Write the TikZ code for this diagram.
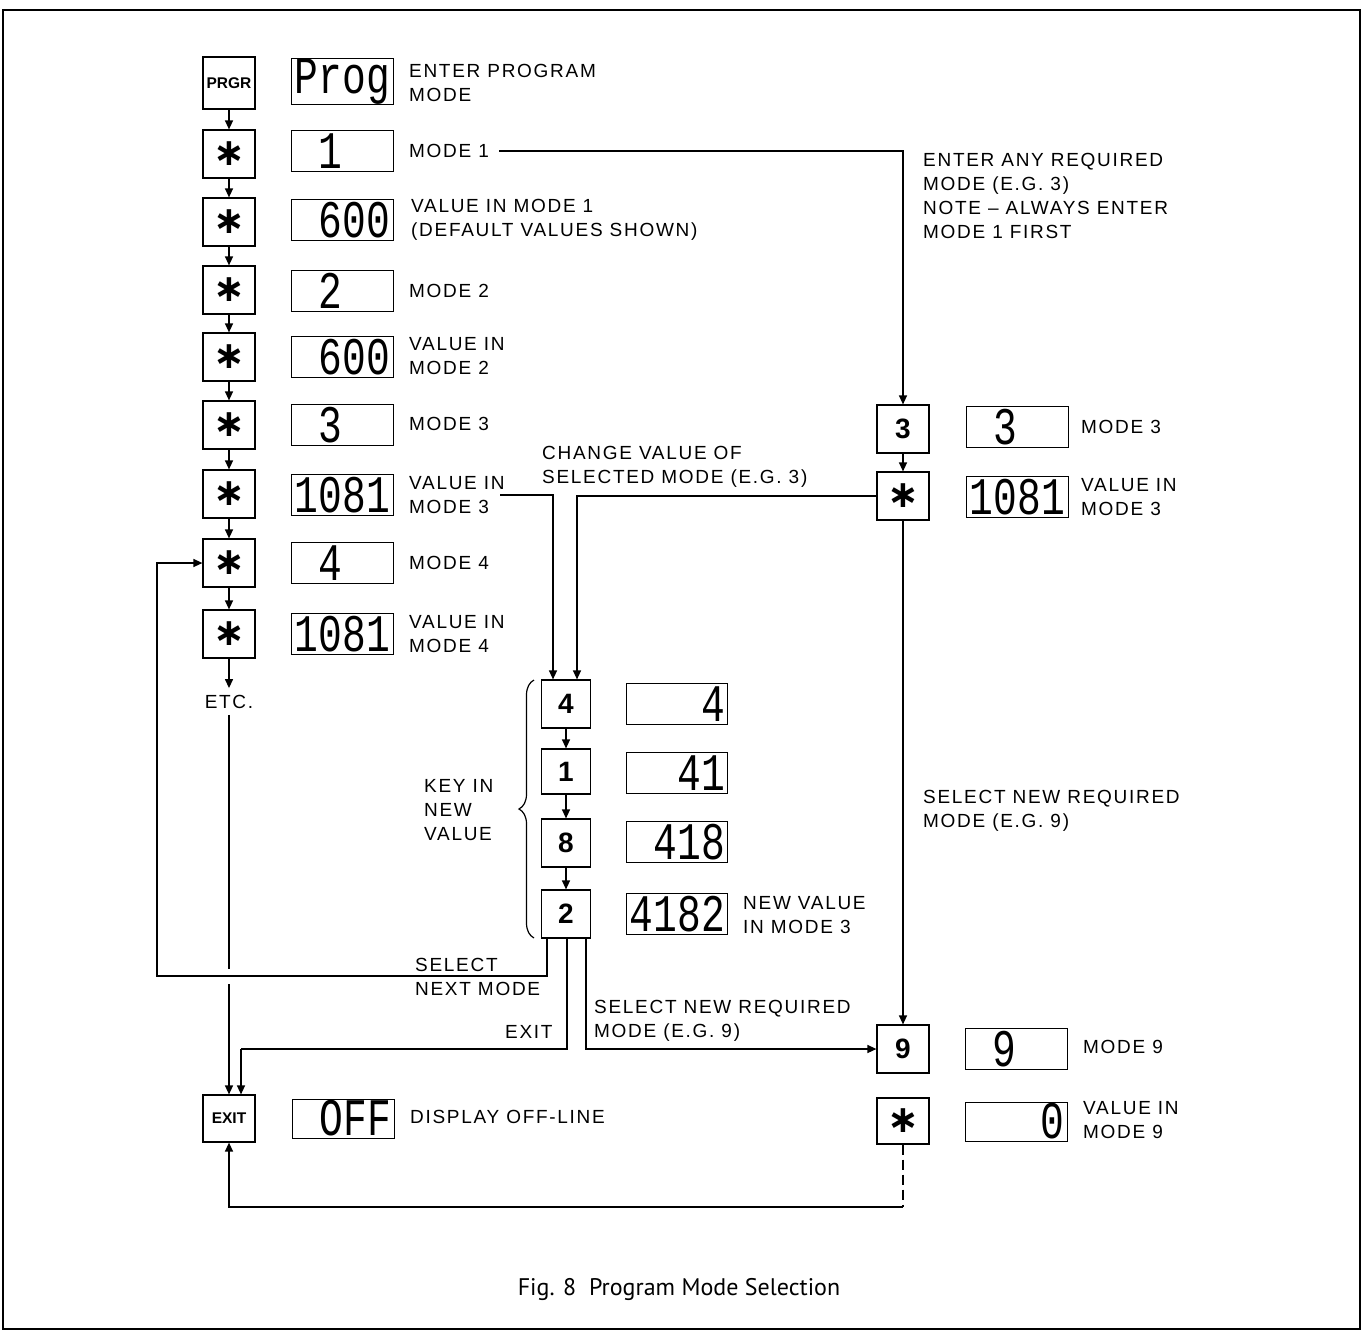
\documentclass[tikz,border=0pt]{standalone}
\usepackage{fontspec}
\usepackage{graphicx}
\usetikzlibrary{arrows.meta,decorations.pathreplacing}
\setmainfont{Liberation Sans}
\newfontfamily\lblfont{Liberation Sans}[LetterSpace=9]
\newfontfamily\keyfont{Liberation Sans}
\newfontfamily\astfont{DejaVu Sans Bold}
\newfontfamily\segfont{Liberation Mono}
\newfontfamily\capfont{PT Sans}
\newcommand\seg[1]{\scalebox{1.2}[1.6]{\segfont\fontsize{33}{33}\selectfont #1}}
\newcommand\keyast{{\astfont\fontsize{38}{38}\selectfont ∗}}
\newcommand\ph{\phantom{0}}
\tikzset{
  key/.style={draw, line width=1.2pt, minimum width=52pt, minimum height=48pt, inner sep=0pt,
     font=\keyfont\bfseries\fontsize{28}{28}\selectfont},
  smallkey/.style={key, font=\keyfont\bfseries\fontsize{15.5}{15.5}\selectfont},
  disp/.style={draw, line width=1pt, minimum width=102pt, minimum height=41pt, inner sep=0pt,
     text width=96pt, align=right},
  lbl/.style={anchor=west, align=left, inner sep=0pt, font=\lblfont\fontsize{19}{24}\selectfont},
  ln/.style={line width=1.3pt},
  arr/.style={ln, -{Triangle[length=9pt,width=8pt]}}
}
\begin{document}
\begin{tikzpicture}[x=1pt,y=-1pt]
\useasboundingbox (0,0) rectangle (1363,1331);
\draw[line width=1.5pt] (3,10) rectangle (1360,1329);

% left column keys
\node[smallkey, minimum height=52pt] (kP) at (229,83) {PRGR};
\node[key] (s1) at (229,154) {\keyast};
\node[key] (s2) at (229,222) {\keyast};
\node[key] (s3) at (229,290) {\keyast};
\node[key] (s4) at (229,357) {\keyast};
\node[key] (s5) at (229,425) {\keyast};
\node[key] (s6) at (229,494) {\keyast};
\node[key] (s7) at (229,563) {\keyast};
\node[key] (s8) at (229,634) {\keyast};
\node[lbl, anchor=center] (etc) at (229,702) {ETC.};
\node[smallkey, minimum height=47pt] (kE) at (229,1118.5) {EXIT};

% left column displays
\node[disp, minimum height=39pt] (dP) at (342,81.5) {\seg{Prog}};
\node[disp] (d1) at (342,151) {\seg{\ph1\ph\ph}};
\node[disp] (d2) at (342,220) {\seg{\ph600}};
\node[disp] (d3) at (342,291) {\seg{\ph2\ph\ph}};
\node[disp] (d4) at (342,357) {\seg{\ph600}};
\node[disp] (d5) at (342,425) {\seg{\ph3\ph\ph}};
\node[disp] (d6) at (342,495) {\seg{1081}};
\node[disp] (d7) at (342,563) {\seg{\ph4\ph\ph}};
\node[disp] (d8) at (342,634) {\seg{1081}};
\node[disp, minimum height=39pt] (dOff) at (343,1118.5) {\seg{\ph OFF}};

% left labels
\node[lbl] (lP) at (409,83) {ENTER PROGRAM\\MODE};
\node[lbl] (lM1) at (409,151) {MODE 1};
\node[lbl] (lV1) at (411,220) {VALUE IN MODE 1\\(DEFAULT VALUES SHOWN)};
\node[lbl] (lM2) at (409,291) {MODE 2};
\node[lbl] (lV2) at (409,356) {VALUE IN\\MODE 2};
\node[lbl] (lM3) at (409,424) {MODE 3};
\node[lbl] (lV3) at (409,495) {VALUE IN\\MODE 3};
\node[lbl] (lM4) at (409,563) {MODE 4};
\node[lbl] (lV4) at (409,634) {VALUE IN\\MODE 4};
\node[lbl] (lOff) at (410,1117) {DISPLAY OFF-LINE};

% middle column
\node[key, minimum width=49pt] (k4) at (566,704) {4};
\node[key, minimum width=49pt, minimum height=45pt] (k1) at (566,771.5) {1};
\node[key, minimum width=49pt] (k8) at (566,843) {8};
\node[key, minimum width=49pt] (k2) at (566,914) {2};
\node[disp, minimum width=101pt] (m1) at (677,704) {\seg{\ph\ph\ph4}};
\node[disp, minimum width=101pt] (m2) at (677,773) {\seg{\ph\ph41}};
\node[disp, minimum width=101pt] (m3) at (677,842) {\seg{\ph418}};
\node[disp, minimum width=101pt] (m4) at (677,914) {\seg{4182}};
\node[lbl] (lNew) at (743,915) {NEW VALUE\\IN MODE 3};
\node[lbl] (lKey) at (424,810) {KEY IN\\NEW\\VALUE};
\node[lbl] (lChange) at (542,467) {CHANGE VALUE OF\\SELECTED MODE (E.G. 3)};
\node[lbl] (lSelNext) at (415,977) {SELECT\\NEXT MODE};
\node[lbl] (lExit) at (505,1032) {EXIT};
\node[lbl] (lSel9b) at (594,1021) {SELECT NEW REQUIRED\\MODE (E.G. 9)};

% right column
\node[key] (kR3) at (903,429) {3};
\node[key] (kRs) at (903,496) {\keyast};
\node[key] (kR9) at (903,1049) {9};
\node[key, minimum height=46pt] (kRs2) at (903,1121) {\keyast};
\node[disp] (dR3) at (1017,427) {\seg{\ph3\ph\ph}};
\node[disp] (dR4) at (1017,497) {\seg{1081}};
\node[disp] (dR9) at (1016,1049) {\seg{\ph9\ph\ph}};
\node[disp, minimum height=39pt] (dR0) at (1016,1121.5) {\seg{\ph\ph\ph0}};
\node[lbl] (lEnter) at (923,196) {ENTER ANY REQUIRED\\MODE (E.G. 3)\\NOTE – ALWAYS ENTER\\MODE 1 FIRST};
\node[lbl] (lRM3) at (1081,427) {MODE 3};
\node[lbl] (lRV3) at (1081,497) {VALUE IN\\MODE 3};
\node[lbl] (lSel9) at (923,811) {SELECT NEW REQUIRED\\MODE (E.G. 9)};
\node[lbl] (lRM9) at (1083,1047) {MODE 9};
\node[lbl] (lRV9) at (1083,1120) {VALUE IN\\MODE 9};

% caption
\node[font=\capfont\fontsize{24}{24}\selectfont] (cap) at (679,1289) {Fig. 8\ \ Program Mode Selection};

% brace
\draw[line width=1.2pt, decorate, decoration={brace, amplitude=15pt}] (534,938) -- (534,680);

% coordinates
\coordinate (v3s) at (500,495);
\coordinate (gapA) at (229,969);
\coordinate (gapB) at (229,984);
\coordinate (sn1) at (157,976);
\coordinate (ex1) at (241,1049);
\coordinate (cD) at (903,1207);

% left chain
\draw[arr] (kP) -- (s1);
\draw[arr] (s1) -- (s2);
\draw[arr] (s2) -- (s3);
\draw[arr] (s3) -- (s4);
\draw[arr] (s4) -- (s5);
\draw[arr] (s5) -- (s6);
\draw[arr] (s6) -- (s7);
\draw[arr] (s7) -- (s8);
\draw[arr] (s8.south) -- ([yshift=7pt]etc.north);
\draw[ln] ([yshift=-6pt]etc.south) -- (gapA);
\draw[arr] (gapB) -- (kE.north);

% mode 1 to right column
\draw[arr] ([xshift=10pt]lM1.east) -| (kR3.north);
\draw[arr] (kR3) -- (kRs);
\draw[arr] (kRs) -- (kR9);

% change value
\draw[arr] (v3s) -| ([xshift=-13pt]k4.north);
\draw[arr] (kRs.west) -| ([xshift=11pt]k4.north);
\draw[arr] (k4) -- (k1);
\draw[arr] (k1) -- (k8);
\draw[arr] (k8) -- (k2);

% from key 2
\draw[arr] ([xshift=-19pt]k2.south) |- (sn1) |- (s7.west);
\draw[ln] ([xshift=1pt]k2.south) |- (ex1);
\draw[arr] (ex1) -- ([xshift=12pt]kE.north);
\draw[arr] ([xshift=20pt]k2.south) |- (kR9.west);

% back to exit
\draw[ln, dashed, dash pattern=on 10pt off 5pt] (kRs2.south) -- (cD);
\draw[arr] (cD) -| (kE.south);
\end{tikzpicture}
\end{document}
